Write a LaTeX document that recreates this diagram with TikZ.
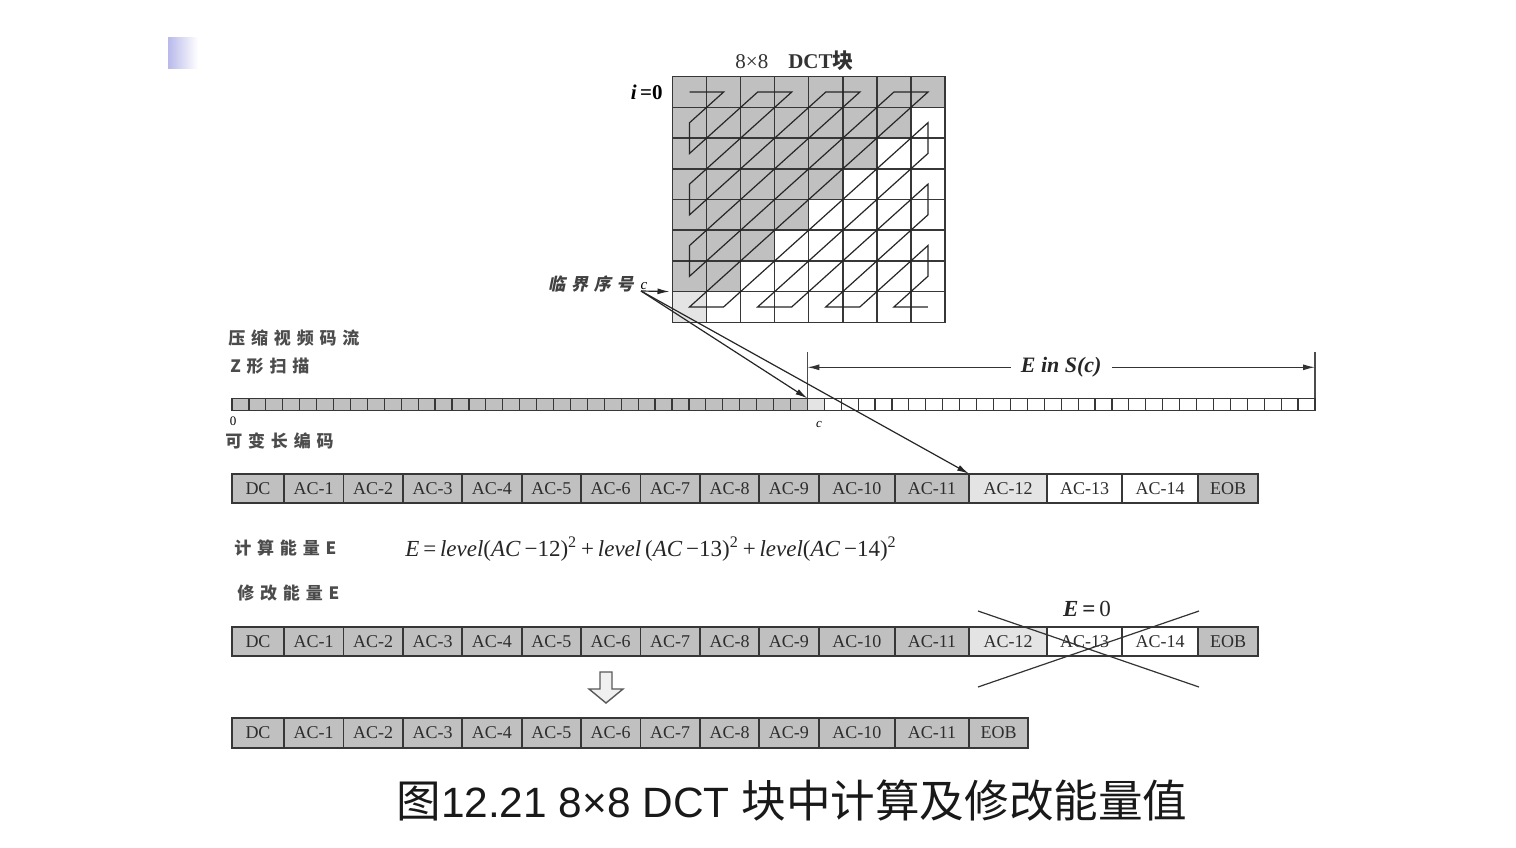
\documentclass[tikz,border=0pt]{standalone}
\usepackage{fontspec}
\setmainfont{Liberation Serif}
\newfontfamily\cjk{Noto Sans CJK SC}
\newfontfamily\cjkit{Noto Sans CJK SC}[FakeSlant=0.2]
\newfontfamily\capfont{Liberation Sans}
\usetikzlibrary{arrows.meta,calc}
\definecolor{cg}{RGB}{192,192,192}
\definecolor{cl}{RGB}{228,228,228}
\definecolor{lnc}{RGB}{55,55,55}
\definecolor{txc}{RGB}{45,45,45}
\definecolor{lav}{RGB}{185,185,235}
\newcommand\lsp{\kern2.2pt}
\newcommand\lspw{\kern2.9pt}
\begin{document}
\begin{tikzpicture}[x=0.5pt,y=-0.5pt,
  gcell/.style={draw=lnc,line width=0.75pt,minimum width=17.03pt,minimum height=15.35pt,inner sep=0pt,outer sep=0pt},
  scell/.style={draw=lnc,line width=0.6pt,minimum width=8.461pt,minimum height=6.2pt,inner sep=0pt,outer sep=0pt},
  rcell/.style={draw=lnc,line width=0.9pt,minimum height=14.75pt,inner sep=0pt,outer sep=0pt,text=txc,font=\fontsize{9}{10}\selectfont},
  zz/.style={draw=black!85,line width=0.6pt},
  conn/.style={draw=black!85,line width=0.6pt,-{Latex[length=6pt,width=3pt]}},
  dim/.style={draw=black!80,line width=0.6pt,{Latex[length=6pt,width=3pt]}-{Latex[length=6pt,width=3pt]}},
  bar/.style={draw=black!70,line width=0.6pt},
  lbl/.style={inner sep=0pt,text=black!70,font=\cjk\bfseries\fontsize{8.5}{10}\selectfont,anchor=west},
  cross/.style={draw=black!80,line width=0.6pt},
 ]
\useasboundingbox (0,0) rectangle (1516,847);
\fill[white] (0,0) rectangle (1516,847);
% slide bullet
\shade[left color=lav,right color=white] (168,37) rectangle (198,68);

% 8x8 DCT block
\foreach \i in {0,...,7}{
  \foreach \j in {0,...,7}{
    \pgfmathtruncatemacro\s{\i+\j}
    \ifnum\s>7 \def\fc{white}\else\def\fc{cg}\fi
    \ifnum\i=7 \ifnum\j=0 \def\fc{cl}\fi\fi
    \node[gcell,fill=\fc] (g\i\j) at ({672.5+(\j+0.5)*34.06},{76.7+(\i+0.5)*30.7}) {};
  }
}
\draw[zz] (g00.center) -- (g01.center) -- (g10.center) -- (g20.center) -- (g02.center) -- (g03.center)
 -- (g30.center) -- (g40.center) -- (g04.center) -- (g05.center) -- (g50.center) -- (g60.center)
 -- (g06.center) -- (g07.center) -- (g70.center) -- (g71.center) -- (g17.center) -- (g27.center)
 -- (g72.center) -- (g73.center) -- (g37.center) -- (g47.center) -- (g74.center) -- (g75.center)
 -- (g57.center) -- (g67.center) -- (g76.center) -- (g77.center);
\node[inner sep=0pt,anchor=west,font=\fontsize{10.5}{12}\selectfont,text=black!80] (title) at (735,61)
  {8×8\hspace{10pt}\textbf{DCT}{\cjk\bfseries 块}};
\node[inner sep=0pt,anchor=east,font=\bfseries\fontsize{10.5}{12}\selectfont] (i0) at (663,92) {\textit{i}\,=0};

% critical index
\node[inner sep=0pt,text=black!75,font=\cjkit\bfseries\fontsize{8.5}{10}\selectfont] (crit) at (591,284) {临\lspw 界\lspw 序\lspw 号};
\node[inner sep=0pt,font=\itshape\fontsize{7.5}{9}\selectfont] (clab) at (644,286) {c};
\coordinate (cpt) at (641,291);

% scan strip
\foreach \k in {0,...,63}{
  \ifnum\k<34 \def\fc{cg}\else\ifnum\k=34 \def\fc{cl}\else\def\fc{white}\fi\fi
  \node[scell,fill=\fc] (s\k) at ({232+(\k+0.5)*16.922},404.5) {};
}
\node[inner sep=0pt,font=\fontsize{6.5}{8}\selectfont] (z0) at (233,421) {0};
\node[inner sep=0pt,font=\itshape\fontsize{6.5}{8}\selectfont] (zc) at (819,424) {c};

\coordinate (bL) at ([yshift=23pt]s34.north west);
\coordinate (bR) at ([yshift=23pt]s63.north east);
\coordinate (aL) at ([yshift=15.5pt]s34.north west);
\coordinate (aR) at ([yshift=15.5pt]s63.north east);
\draw[bar] (s34.north west) -- (bL);
\draw[bar] (s63.north east) -- (bR);
\draw[dim] (aL) -- node[fill=white,inner xsep=5pt,inner ysep=1pt,font=\bfseries\itshape\fontsize{11}{13}\selectfont,text=black!85] (elab) {E in S(c)} (aR);

% left labels
\node[lbl] (l1) at (228,338) {压\lspw 缩\lspw 视\lspw 频\lspw 码\lspw 流};
\node[lbl] (l2) at (230,366) {Z\lspw 形\lspw 扫\lspw 描};
\node[lbl] (l3) at (225,441) {可\lspw 变\lspw 长\lspw 编\lspw 码};
\node[lbl] (l4) at (234,548) {计\lspw 算\lspw 能\lspw 量\lspw E};
\node[lbl] (l5) at (237,593) {修\lspw 改\lspw 能\lspw 量\lspw E};

% row 1
\foreach \n/\l/\r/\t/\c in {0/232/284/DC/cg,1/284/343.4/AC-1/cg,2/343.4/402.8/AC-2/cg,3/402.8/462.2/AC-3/cg,
  4/462.2/521.6/AC-4/cg,5/521.6/581/AC-5/cg,6/581/640.4/AC-6/cg,7/640.4/699.8/AC-7/cg,8/699.8/759.2/AC-8/cg,
  9/759.2/818.6/AC-9/cg,10/818.6/895/AC-10/cg,11/895/969/AC-11/cg,12/969/1047/AC-12/cl,13/1047/1122/AC-13/white,
  14/1122/1198/AC-14/white,15/1198/1258/EOB/cg}{
  \pgfmathsetmacro\w{(\r-\l)*0.5}
  \node[rcell,fill=\c,minimum width=\w pt] (ra\n) at ({(\l+\r)/2},488.5) {\t};
}
% row 2
\foreach \n/\l/\r/\t/\c in {0/232/284/DC/cg,1/284/343.4/AC-1/cg,2/343.4/402.8/AC-2/cg,3/402.8/462.2/AC-3/cg,
  4/462.2/521.6/AC-4/cg,5/521.6/581/AC-5/cg,6/581/640.4/AC-6/cg,7/640.4/699.8/AC-7/cg,8/699.8/759.2/AC-8/cg,
  9/759.2/818.6/AC-9/cg,10/818.6/895/AC-10/cg,11/895/969/AC-11/cg,12/969/1047/AC-12/cl,13/1047/1122/AC-13/white,
  14/1122/1198/AC-14/white,15/1198/1258/EOB/cg}{
  \pgfmathsetmacro\w{(\r-\l)*0.5}
  \node[rcell,fill=\c,minimum width=\w pt] (rb\n) at ({(\l+\r)/2},641.5) {\t};
}
% row 3
\foreach \n/\l/\r/\t/\c in {0/232/284/DC/cg,1/284/343.4/AC-1/cg,2/343.4/402.8/AC-2/cg,3/402.8/462.2/AC-3/cg,
  4/462.2/521.6/AC-4/cg,5/521.6/581/AC-5/cg,6/581/640.4/AC-6/cg,7/640.4/699.8/AC-7/cg,8/699.8/759.2/AC-8/cg,
  9/759.2/818.6/AC-9/cg,10/818.6/895/AC-10/cg,11/895/969/AC-11/cg,12/969/1028/EOB/cg}{
  \pgfmathsetmacro\w{(\r-\l)*0.5}
  \node[rcell,fill=\c,minimum width=\w pt] (rc\n) at ({(\l+\r)/2},733) {\t};
}

% connectors from critical index c
\draw[conn,shorten >=1.5pt] (cpt) -- (g70.north west);
\draw[conn] (cpt) -- (s34.north west);
\draw[conn] (cpt) -- (ra12.north west);

% formula
\node[inner sep=0pt,anchor=west,font=\fontsize{11.5}{13}\selectfont,text=black!85] (form) at (405,549)
 {\textit{E}\,=\,\textit{level}(\textit{AC}\,−12)\textsuperscript{2}\,+\,\textit{level}\,(\textit{AC}\,−13)\textsuperscript{2}\,+\,\textit{level}(\textit{AC}\,−14)\textsuperscript{2}};

% E = 0 and cross
\node[inner sep=0pt,font=\fontsize{11.5}{13}\selectfont,text=black!85] (ez) at (1087,609) {\textbf{\textit{E}}\,\textbf{=}\,0};
\coordinate (x1) at (978,611);
\coordinate (x2) at (1199,687);
\coordinate (x3) at (978,687);
\coordinate (x4) at (1199,611);
\draw[cross] (x1) -- (x2);
\draw[cross] (x3) -- (x4);

% hollow down arrow
\draw[draw=black!65,fill=black!6,line width=0.7pt,line join=miter]
  (600,672) -- (612,672) -- (612,689) -- (623,689) -- (606,703) -- (589,689) -- (600,689) -- cycle;

% caption
\node[inner sep=0pt,text=black!90] (cap) at (792,801)
  {{\cjk\fontsize{22.3}{26}\selectfont 图}{\capfont\fontsize{21.2}{26}\selectfont 12.21 8×8 DCT }{\cjk\fontsize{22.3}{26}\selectfont 块中计算及修改能量值}};
\end{tikzpicture}
\end{document}
